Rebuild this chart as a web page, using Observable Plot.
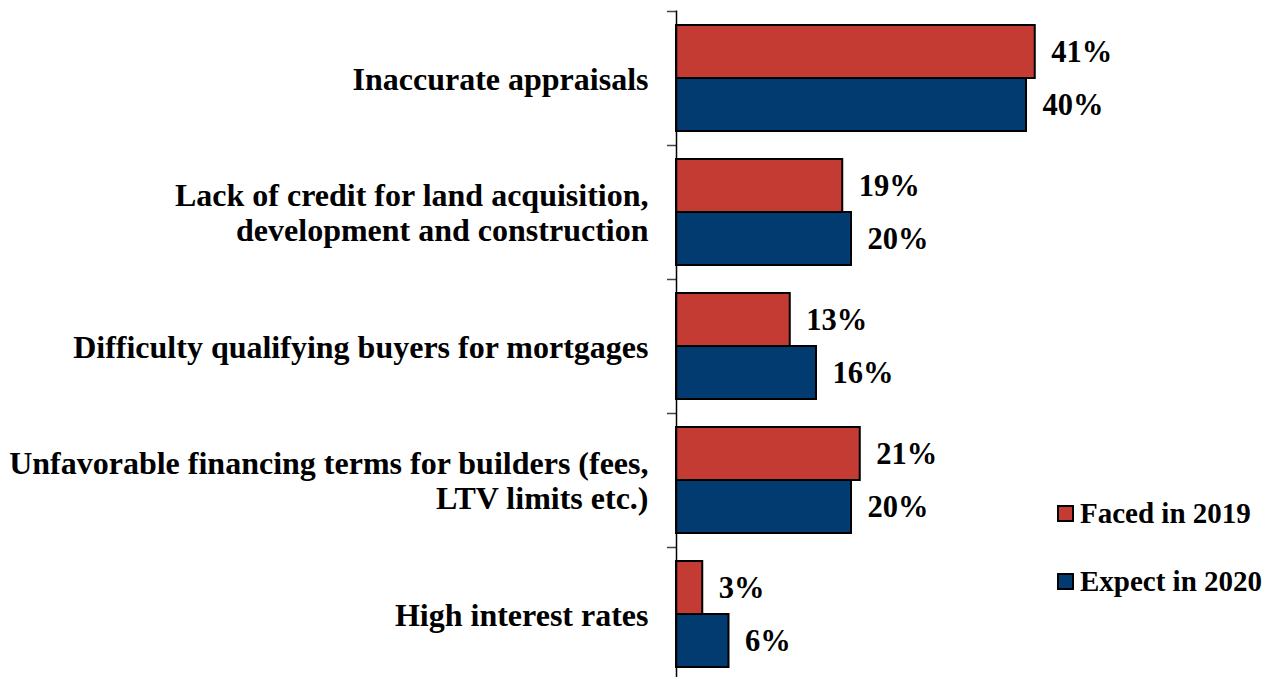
<!DOCTYPE html>
<html>
<head>
<meta charset="utf-8">
<script src="https://cdn.jsdelivr.net/npm/d3@7"></script>
<script src="https://cdn.jsdelivr.net/npm/@observablehq/plot@0.6"></script>
<style>
  html, body { margin: 0; padding: 0; background: #fff; overflow: hidden; }
  #wrap { position: relative; width: 1269px; height: 677px; }
  .legend { position: absolute; left: 1057px; font-family: "Liberation Serif", "Times New Roman", serif; font-weight: bold; font-size: 29px; color: #000; display: flex; align-items: center; white-space: nowrap; }
  .sw { width: 13px; height: 13px; border: 2px solid #000; margin-right: 6px; }
  svg text { font-family: "Liberation Serif", "Times New Roman", serif; }
</style>
</head>
<body>
<div id="wrap"></div>
<script>
const categories = [
  "Inaccurate appraisals",
  "Lack of credit for land acquisition,\ndevelopment and construction",
  "Difficulty qualifying buyers for mortgages",
  "Unfavorable financing terms for builders (fees,\nLTV limits etc.)",
  "High interest rates"
];
const series = ["Faced in 2019", "Expect in 2020"];
const faced2019 = [41, 19, 13, 21, 3];
const expect2020 = [40, 20, 16, 20, 6];
const colors = ["#C43B33", "#013B70"];

const redData = categories.map((c, i) => ({category: c, value: faced2019[i]}));
const blueData = categories.map((c, i) => ({category: c, value: expect2020[i]}));

const font = "Liberation Serif";
const half = 53;

const chart = Plot.plot({
  width: 1269,
  height: 681,
  marginLeft: 676,
  marginRight: 155.5,
  marginTop: 10.5,
  marginBottom: 0,
  style: {background: "transparent"},
  x: {domain: [0, 50], axis: null},
  y: {domain: categories, paddingInner: 0.209, paddingOuter: 0.1045, axis: null},
  marks: [
    Plot.barX(redData, {x: "value", y: "category", fill: colors[0], stroke: "#000", strokeWidth: 2, insetBottom: half}),
    Plot.barX(blueData, {x: "value", y: "category", fill: colors[1], stroke: "#000", strokeWidth: 2, insetTop: half}),
    Plot.text(redData, {x: "value", y: "category", text: d => d.value + "%", dx: 16, dy: -half / 2, textAnchor: "start", fontSize: 30.5, fontWeight: "bold", fontFamily: font, fill: "#000"}),
    Plot.text(blueData, {x: "value", y: "category", text: d => d.value + "%", dx: 16, dy: half / 2, textAnchor: "start", fontSize: 30.5, fontWeight: "bold", fontFamily: font, fill: "#000"}),
    Plot.text(categories, {x: 0, y: d => d, text: d => d, dx: -28, textAnchor: "end", fontSize: 32, fontWeight: "bold", fontFamily: font, lineHeight: 1.09, fill: "#000"}),
    Plot.axisY({tickSize: 9, tickFormat: () => "", label: null, dy: -67, stroke: "#444", strokeWidth: 1.5}),
    Plot.ruleX([0], {stroke: "#000", strokeWidth: 1.5})
  ]
});

const wrap = document.getElementById("wrap");
wrap.appendChild(chart);

const legendTops = [497, 565];
series.forEach((s, i) => {
  const div = document.createElement("div");
  div.className = "legend";
  div.style.top = legendTops[i] + "px";
  const sw = document.createElement("span");
  sw.className = "sw";
  sw.style.background = colors[i];
  div.appendChild(sw);
  div.appendChild(document.createTextNode(s));
  wrap.appendChild(div);
});
</script>
</body>
</html>
